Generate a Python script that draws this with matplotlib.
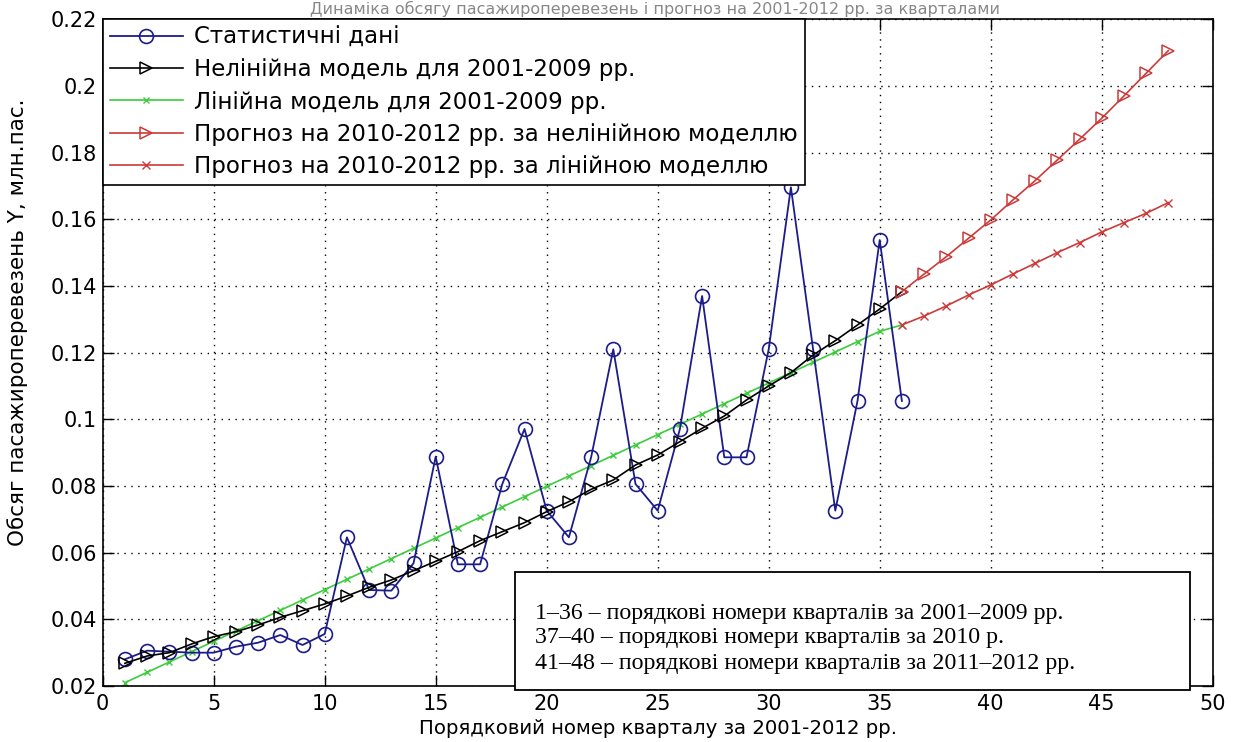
import matplotlib
matplotlib.use("Agg")
import matplotlib.pyplot as plt
from matplotlib.patches import Rectangle

# ---- data ----
x_stat = list(range(1, 37))
y_stat = [0.0280, 0.0306, 0.0303, 0.0300, 0.0300, 0.0318, 0.0330, 0.0353, 0.0323, 0.0356,
          0.0646, 0.0488, 0.0486, 0.0568, 0.0888, 0.0565, 0.0565, 0.0806, 0.0971, 0.0726,
          0.0646, 0.0886, 0.1210, 0.0806, 0.0726, 0.0971, 0.1370, 0.0886, 0.0886, 0.1210,
          0.1696, 0.1210, 0.0726, 0.1055, 0.1538, 0.1055]

x_nonlin = list(range(1, 37))
y_nonlin = [0.0268, 0.0290, 0.0300, 0.0326, 0.0348, 0.0363, 0.0383, 0.0406, 0.0426, 0.0446,
            0.0470, 0.0496, 0.0518, 0.0546, 0.0574, 0.0603, 0.0636, 0.0663, 0.0690, 0.0723,
            0.0753, 0.0790, 0.0818, 0.0863, 0.0893, 0.0933, 0.0973, 0.1010, 0.1058, 0.1100,
            0.1140, 0.1193, 0.1236, 0.1283, 0.1331, 0.1383]

x_lin = list(range(1, 37))
y_lin = [0.0210, 0.0241, 0.0272, 0.0303, 0.0334, 0.0365, 0.0396, 0.0427, 0.0458, 0.0489,
         0.0520, 0.0551, 0.0582, 0.0613, 0.0644, 0.0675, 0.0706, 0.0737, 0.0768, 0.0799,
         0.0830, 0.0861, 0.0892, 0.0923, 0.0954, 0.0985, 0.1016, 0.1047, 0.1078, 0.1109,
         0.1140, 0.1171, 0.1202, 0.1233, 0.1264, 0.1283]

x_fc = list(range(36, 49))
y_fc_nonlin = [0.1383, 0.1436, 0.1488, 0.1543, 0.1598, 0.1658, 0.1716, 0.1778, 0.1840,
               0.1903, 0.1970, 0.2038, 0.2106]
y_fc_lin = [0.1283, 0.1310, 0.1340, 0.1373, 0.1403, 0.1436, 0.1468, 0.1500, 0.1530,
            0.1562, 0.1590, 0.1618, 0.1650]

labels = ["Статистичні дані",
          "Нелінійна модель для 2001-2009 рр.",
          "Лінійна модель для 2001-2009 рр.",
          "Прогноз на 2010-2012 рр. за нелінійною моделлю",
          "Прогноз на 2010-2012 рр. за лінійною моделлю"]

x_ticks = [0, 5, 10, 15, 20, 25, 30, 35, 40, 45, 50]
y_ticks = [0.02, 0.04, 0.06, 0.08, 0.10, 0.12, 0.14, 0.16, 0.18, 0.20, 0.22]
y_ticklabels = ["0.02", "0.04", "0.06", "0.08", "0.1", "0.12", "0.14", "0.16", "0.18", "0.2", "0.22"]

note_lines = ["1–36 – порядкові номери кварталів за 2001–2009 рр.",
              "37–40 – порядкові номери кварталів за 2010 р.",
              "41–48 – порядкові номери кварталів за 2011–2012 рр."]

title = "Динаміка обсягу пасажироперевезень і прогноз на 2001-2012 рр. за кварталами"
xlabel = "Порядковий номер кварталу за 2001-2012 рр."
ylabel = "Обсяг пасажироперевезень Y, млн.пас."

# ---- plot ----
plt.rcParams['font.family'] = ['DejaVu Sans']
W, H = 1235, 742
fig = plt.figure(figsize=(W / 100, H / 100), dpi=100)
ax = fig.add_axes([102.7 / W, 1 - 686 / H, 1110 / W, (686 - 19.3) / H])

blue = '#1c1c8a'
green = '#3ccc3c'
red = '#cc3a3a'

ax.plot(x_stat, y_stat, color=blue, lw=1.3, marker='o', ms=10, mfc='none', mec=blue, mew=1.2,
        label=labels[0], zorder=3)
ax.plot(x_nonlin, y_nonlin, color='black', lw=1.2, marker='>', ms=9, mfc='none', mec='black',
        mew=1.1, label=labels[1], zorder=4)
ax.plot(x_lin, y_lin, color=green, lw=1.2, marker='x', ms=5, mew=1.0, label=labels[2], zorder=2)
ax.plot(x_fc, y_fc_nonlin, color=red, lw=1.2, marker='>', ms=9, mfc='none', mec=red, mew=1.1,
        label=labels[3], zorder=5)
ax.plot(x_fc, y_fc_lin, color=red, lw=1.2, marker='x', ms=6, mew=1.0, label=labels[4], zorder=5)

ax.set_xlim(0, 50)
ax.set_ylim(0.02, 0.22)
ax.set_xticks(x_ticks)
ax.set_yticks(y_ticks)
ax.set_yticklabels(y_ticklabels)
ax.tick_params(direction='in', top=True, right=True, length=8, width=1, labelsize=15)
ax.tick_params(axis='y', pad=4)
ax.tick_params(axis='x', pad=6)
ax.grid(True, linestyle=(0, (1, 4)), color='black', linewidth=1.0)
for s in ax.spines.values():
    s.set_linewidth(1.2)

fig.text(657.7 / W, 1 - 728 / H, xlabel, ha='center', va='center', fontsize=14.2)
fig.text(18 / W, 1 - 322 / H, ylabel, ha='center', va='center', rotation=90, fontsize=15.5)

leg = ax.legend(loc='upper left', bbox_to_anchor=(0, 1), borderaxespad=0, fontsize=16.5,
                fancybox=False, framealpha=1, edgecolor='black', handlelength=3.2,
                handletextpad=0.5, labelspacing=0.4, borderpad=0.3, numpoints=1)
leg.get_frame().set_linewidth(1.2)

# title (mostly hidden behind the top edge in the reference)
fig.text(655 / W, 1 - 1 / H, title, ha='center', va='top', fontsize=11.5, color='#888888')

# note box
rect = Rectangle((515 / W, 1 - 690 / H), 675 / W, 118 / H, transform=fig.transFigure,
                 facecolor='white', edgecolor='black', linewidth=1.3, zorder=10)
fig.add_artist(rect)
for i, line in enumerate(note_lines):
    fig.text(535 / W, 1 - (613 + 25 * i) / H, line, ha='left', va='center', fontsize=17.2,
             family=['Liberation Serif', 'DejaVu Serif'], zorder=11)

fig.savefig('out.png', dpi=100)
